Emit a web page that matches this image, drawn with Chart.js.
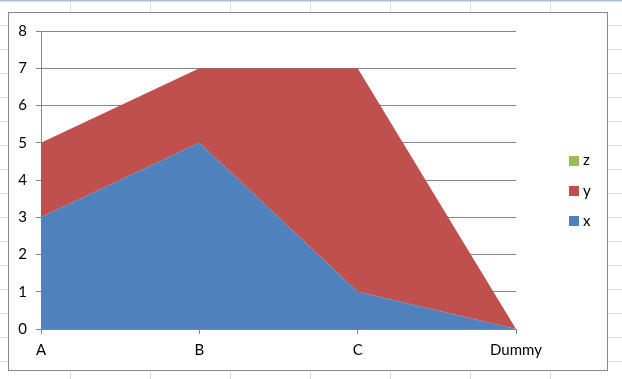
<!DOCTYPE html>
<html>
<head>
<meta charset="utf-8">
<script src="https://cdn.jsdelivr.net/npm/chart.js@4/dist/chart.umd.min.js"></script>
<style>
  html, body { margin: 0; padding: 0; }
  body {
    width: 622px; height: 379px; overflow: hidden; position: relative;
    background-color: #ffffff;
    background-image:
      linear-gradient(to bottom, #a9bed6 0px, #a9bed6 1px, transparent 1px),
      repeating-linear-gradient(to right, transparent 0px, transparent 70px, #dadcdd 70px, #dadcdd 71px, transparent 71px, transparent 80px),
      repeating-linear-gradient(to bottom, transparent 0px, transparent 1px, #dadcdd 1px, #dadcdd 2px, transparent 2px, transparent 24px);
  }
  #box {
    position: absolute; left: 8px; top: 12px; width: 600px; height: 359px;
    box-sizing: border-box; border: 1px solid #878787; background: #ffffff;
  }
  #c { display: block; }
</style>
</head>
<body>
<div id="box"><canvas id="c" width="598" height="357"></canvas></div>
<script>
const categories = ["A", "B", "C", "Dummy"];
const seriesX = [3, 5, 1, 0];
const seriesY = [2, 2, 6, 0];
const seriesZ = [0, 0, 0, 0];
const seriesNames = ["x", "y", "z"];
const yTicks = [0, 1, 2, 3, 4, 5, 6, 7, 8];

const FONT = "Lato, 'Liberation Sans', sans-serif";
const FONT_SIZE = 15;

const legendPlugin = {
  id: 'excelLegend',
  afterDraw(chart) {
    const ctx = chart.ctx;
    const ds = chart.data.datasets.slice().reverse();
    ctx.save();
    ctx.font = FONT_SIZE + "px " + FONT;
    ctx.textBaseline = 'middle';
    ctx.textAlign = 'left';
    const x0 = 560, y0 = 147.5, step = 30.3;
    ds.forEach((d, i) => {
      const cy = y0 + i * step;
      ctx.fillStyle = d.backgroundColor;
      ctx.fillRect(x0, Math.round(cy - 5), 10, 10);
      ctx.fillStyle = '#000';
      ctx.fillText(d.label, x0 + 14, cy);
    });
    ctx.restore();
  }
};

new Chart(document.getElementById('c'), {
  type: 'line',
  data: {
    labels: categories,
    datasets: [
      { label: seriesNames[0], data: seriesX, backgroundColor: '#4f81bd', borderColor: '#4f81bd', fill: 'origin' },
      { label: seriesNames[1], data: seriesY, backgroundColor: '#c0504d', borderColor: '#c0504d', fill: '-1' },
      { label: seriesNames[2], data: seriesZ, backgroundColor: '#9bbb59', borderColor: '#9bbb59', fill: '-1' }
    ]
  },
  options: {
    responsive: false,
    animation: false,
    events: [],
    elements: {
      line: { tension: 0, borderWidth: 0 },
      point: { radius: 0, hoverRadius: 0 }
    },
    layout: { padding: { left: 0, top: 16, right: 91, bottom: 0 } },
    plugins: {
      legend: { display: false },
      tooltip: { enabled: false },
      filler: { propagate: false }
    },
    scales: {
      x: {
        offset: false,
        grid: { display: true, drawOnChartArea: false, drawTicks: true, tickLength: 5, color: '#868686' },
        border: { display: true, color: '#868686' },
        ticks: { color: '#000', font: { family: FONT, size: FONT_SIZE }, padding: 7, maxRotation: 0, autoSkip: false },
        afterFit(scale) { scale.height = 41; }
      },
      y: {
        stacked: true,
        min: 0, max: 8,
        afterBuildTicks(scale) { scale.ticks = yTicks.map(v => ({ value: v })); },
        grid: { color: '#868686', tickLength: 5, drawTicks: true },
        border: { display: true, color: '#868686' },
        ticks: { color: '#000', font: { family: FONT, size: FONT_SIZE }, padding: 9 },
        afterFit(scale) { scale.width = 32; }
      }
    }
  },
  plugins: [legendPlugin]
});
</script>
</body>
</html>
